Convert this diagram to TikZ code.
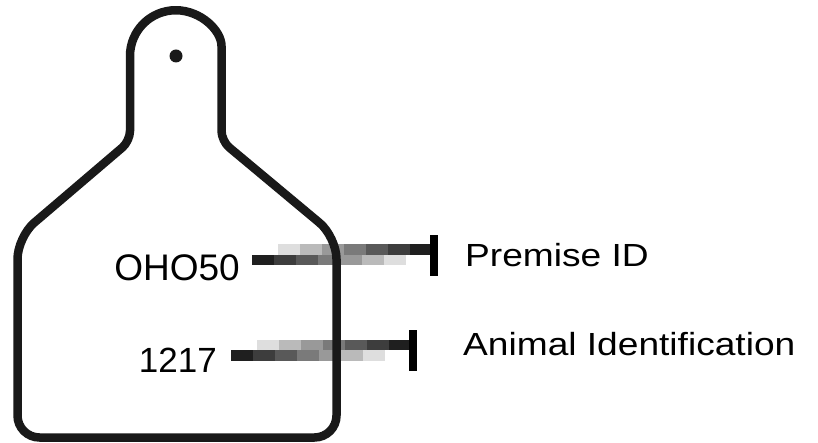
\documentclass[tikz,border=0pt]{standalone}
\usepackage{graphicx}
\usepackage{fontspec}
\setmainfont{Liberation Sans}
\usetikzlibrary{positioning}

\tikzset{
  tagline/.style={line width=8.5pt, draw=black!90, line join=round},
  tagtext/.style={inner sep=0pt, anchor=base east},
  labeltext/.style={inner sep=0pt, anchor=base west,
                    font=\fontsize{32}{36}\selectfont},
}

% pixel-blocked arrow: x of tail, middle y
\newcommand{\bandarrow}[2]{%
  \foreach \k/\g/\h in {0/88/13,1/76/27,2/65/40,3/52/52,4/40/65,5/27/76,6/13/88}{
    \fill[black!\g] ({#1+22*\k},#2) rectangle ({#1+22*\k+22},{#2+10.5});
    \fill[black!\h] ({#1+26+22*\k},{#2-10.5}) rectangle ({#1+26+22*\k+22},#2);
  }
  \fill[black] ({#1+178},{#2-20}) rectangle ({#1+186},{#2+21});
}

\begin{document}
\begin{tikzpicture}[x=1pt,y=-1pt]
  \useasboundingbox (0,0) rectangle (818,443);

  % arrows behind the tag outline
  \bandarrow{252}{255}
  \bandarrow{231}{350}

  % the ear tag
  \draw[tagline] (221.5,56) arc[start angle=0,end angle=-180,radius=45.75]
    [rounded corners=10pt] -- (130,141)
    [rounded corners=22pt] -- (17.5,237) -- (17.5,437.5) -- (336.5,437.5)
    -- (336.5,237) [rounded corners=10pt] -- (221.5,141) -- cycle;
  \fill[black!90] (176,56) circle (6.5);

  % texts on the tag
  \node[tagtext, font=\fontsize{37}{40}\selectfont] (premno) at (240,280) {OHO50};
  \node[tagtext, font=\fontsize{35}{38}\selectfont] (animno) at (217,372) {1217};

  % labels
  \node[labeltext] (premise) at (465,267) {\scalebox{1.16}[1]{Premise ID}};
  \node[labeltext] (animal)  at (463,355) {\scalebox{1.16}[1]{Animal Identification}};
\end{tikzpicture}
\end{document}
